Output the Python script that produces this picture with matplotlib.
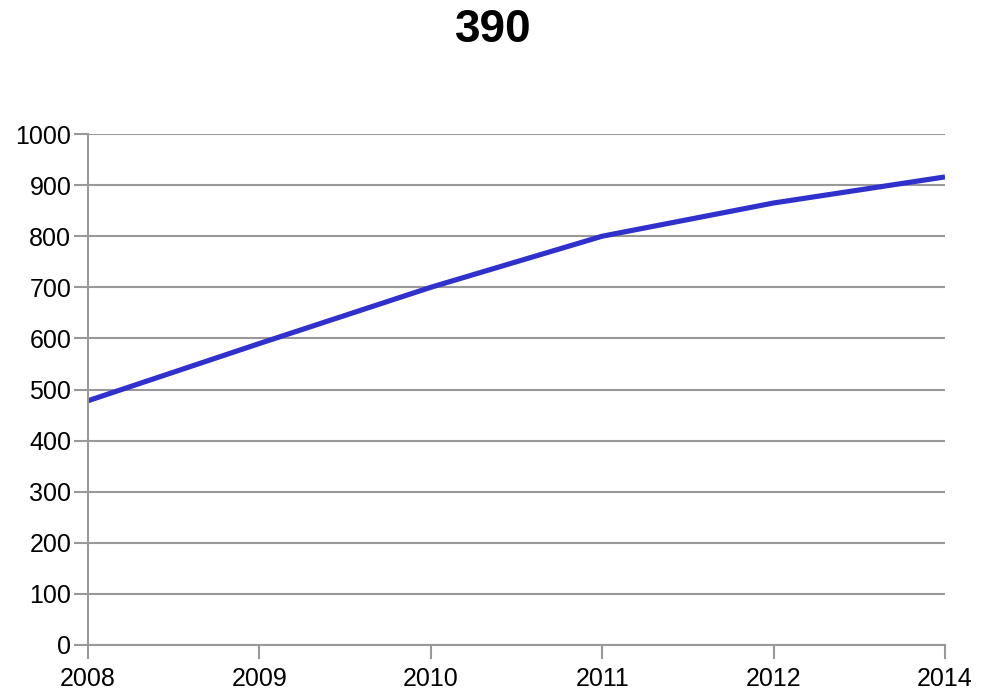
import matplotlib
matplotlib.use("Agg")
import matplotlib.pyplot as plt

years = ["2008", "2009", "2010", "2011", "2012", "2014"]
values = [478, 590, 700, 800, 865, 916]
title = "390"

plt.rcParams["font.family"] = ["Liberation Sans", "DejaVu Sans"]

fig = plt.figure(figsize=(9.86, 6.94), dpi=100)
ax = fig.add_axes([88 / 986, (694 - 645) / 694, (945 - 88) / 986, (645 - 134) / 694])

pos = range(len(years))
ax.plot(pos, values, color="#3030cc", linewidth=3.7, solid_capstyle="butt")

ax.set_xlim(0, len(years) - 1)
ax.set_ylim(0, 1000)
ax.set_yticks(range(0, 1001, 100))
ax.set_xticks(pos)
ax.set_xticklabels(years)
ax.grid(axis="y", color="#999999", linewidth=1.5)
ax.set_axisbelow(True)

for s in ["top", "right"]:
    ax.spines[s].set_visible(False)
for s in ["left", "bottom"]:
    ax.spines[s].set_color("#999999")
    ax.spines[s].set_linewidth(1.5)

ax.tick_params(axis="both", colors="#999999", labelcolor="black", labelsize=18,
               length=10, width=1.5, direction="out")
ax.tick_params(axis="x", pad=6)
ax.tick_params(axis="y", pad=2)

fig.text(0.5, 1 - 30 / 694, title, ha="center", va="center", fontsize=33, fontweight="bold")

fig.savefig("out.png", dpi=100)
